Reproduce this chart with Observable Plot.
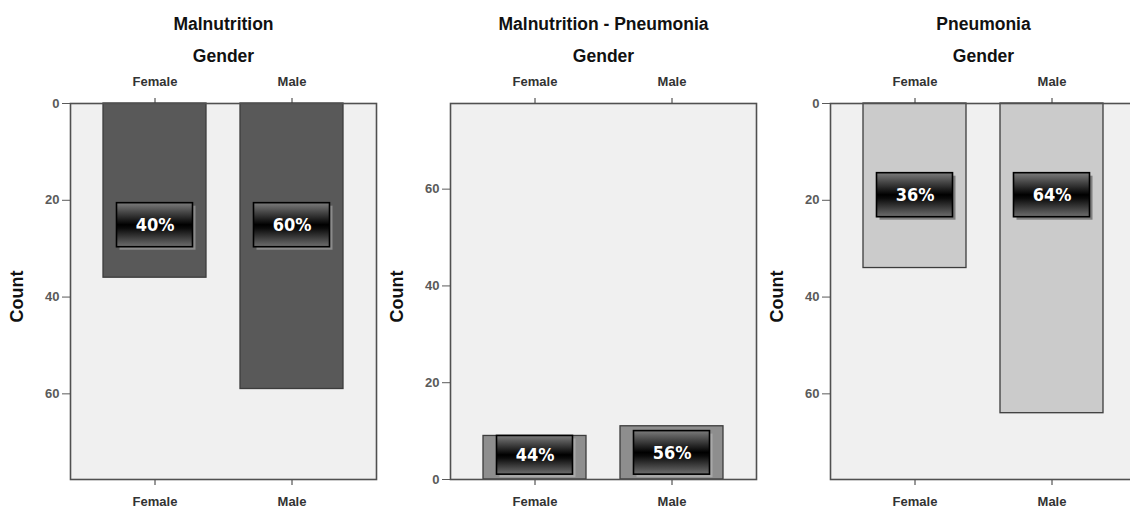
<!DOCTYPE html>
<html>
<head>
<meta charset="utf-8">
<script src="https://cdn.jsdelivr.net/npm/d3@7"></script>
<script src="https://cdn.jsdelivr.net/npm/@observablehq/plot@0.6"></script>
<style>
  html, body { margin: 0; padding: 0; background: #ffffff; }
  #wrap { position: relative; width: 1130px; height: 512px; overflow: hidden; background: #ffffff; }
  #wrap > svg { position: absolute; top: 0; }
</style>
</head>
<body>
<div id="wrap"></div>
<script>
// ---- data ----
const categories = ["Female", "Male"];
const yTicks = [0, 20, 40, 60];
const countMax = 77.7;

const malnutritionTitle = "Malnutrition";
const malnutritionCounts = [36, 59];
const malnutritionPct = ["40%", "60%"];
const malnutritionLabelLow = [20.6, 20.6];
const malnutritionLabelHigh = [29.7, 29.7];

const bothTitle = "Malnutrition - Pneumonia";
const bothCounts = [9, 11];
const bothPct = ["44%", "56%"];
const bothLabelLow = [1, 1];
const bothLabelHigh = [9, 10];

const pneumoniaTitle = "Pneumonia";
const pneumoniaCounts = [34, 64];
const pneumoniaPct = ["36%", "64%"];
const pneumoniaLabelLow = [14.4, 14.4];
const pneumoniaLabelHigh = [23.5, 23.5];

const subTitle = "Gender";
const yLabel = "Count";

const FONT = '"Liberation Sans", Arial, "DejaVu Sans", sans-serif';
const NARROW = '"Liberation Sans Narrow", "Arial Narrow", "DejaVu Sans Condensed", "Liberation Sans", sans-serif';

function gradientDefs(id) {
  return () => {
    const ns = "http://www.w3.org/2000/svg";
    const defs = document.createElementNS(ns, "defs");
    const g = document.createElementNS(ns, "linearGradient");
    g.setAttribute("id", id);
    g.setAttribute("x1", "0"); g.setAttribute("y1", "0");
    g.setAttribute("x2", "0"); g.setAttribute("y2", "1");
    [["0", "#7c7c7c"], ["0.5", "#000000"], ["0.58", "#0a0a0a"], ["1", "#6e6e6e"]].forEach(([o, c]) => {
      const s = document.createElementNS(ns, "stop");
      s.setAttribute("offset", o);
      s.setAttribute("stop-color", c);
      g.appendChild(s);
    });
    defs.appendChild(g);
    return defs;
  };
}

function panel(cfg) {
  const rows = categories.map((c, i) => ({
    cat: c, n: cfg.counts[i], pct: cfg.pct[i], lo: cfg.lo[i], hi: cfg.hi[i]
  }));
  const gid = "lblgrad-" + cfg.id;
  return Plot.plot({
    width: 380,
    height: 512,
    marginTop: 103,
    marginBottom: 33,
    marginLeft: 70,
    marginRight: 4,
    style: { background: "transparent", overflow: "visible", fontFamily: FONT },
    x: { domain: categories, paddingInner: 0.246, paddingOuter: 0.232, label: null },
    y: { domain: [0, countMax], reverse: cfg.reverse, label: null },
    marks: [
      gradientDefs(gid),
      Plot.frame({ fill: "#f0f0f0", stroke: null }),
      Plot.barY(rows, { x: "cat", y1: 0, y2: "n", fill: cfg.barFill, stroke: "#3c3c3c", strokeWidth: 1.3 }),
      Plot.barY(rows, { x: "cat", y1: "lo", y2: "hi", insetLeft: 13.5, insetRight: 13.5, fill: cfg.shadowFill, dx: 3, dy: 3 }),
      Plot.barY(rows, { x: "cat", y1: "lo", y2: "hi", insetLeft: 13.5, insetRight: 13.5, fill: `url(#${gid})`, stroke: "#000", strokeWidth: 1.6 }),
      Plot.text(rows, { x: "cat", y: d => (d.lo + d.hi) / 2, text: "pct", fill: "#ffffff", fontWeight: "bold", fontSize: 18, fontFamily: NARROW }),
      Plot.axisY({ ticks: yTicks, tickSize: 8, tickPadding: 3, fontSize: 13, fontWeight: "bold", color: "#5a5a5a", label: null }),
      Plot.axisX({ anchor: "top", tickSize: 6, tickPadding: 12, fontSize: 13, fontWeight: "bold", color: "#333", label: null }),
      Plot.axisX({ anchor: "bottom", tickSize: 6, tickPadding: 11, fontSize: 13, fontWeight: "bold", color: "#333", label: null }),
      Plot.frame({ stroke: "#505050", strokeWidth: 1.6 }),
      Plot.text([cfg.title], { text: d => d, frameAnchor: "top", dy: -86, fontSize: 17.5, fontWeight: "bold", fill: "#111" }),
      Plot.text([subTitle], { text: d => d, frameAnchor: "top", dy: -54, fontSize: 17.5, fontWeight: "bold", fill: "#111" }),
      Plot.text([yLabel], { text: d => d, frameAnchor: "left", dx: -53, dy: 5, rotate: -90, textAnchor: "middle", fontSize: 18, fontWeight: "bold", fill: "#111" })
    ]
  });
}

const wrap = document.getElementById("wrap");
const panels = [
  { id: "m", left: 0, title: malnutritionTitle, counts: malnutritionCounts, pct: malnutritionPct,
    lo: malnutritionLabelLow, hi: malnutritionLabelHigh, reverse: true, barFill: "#595959", shadowFill: "#8a8a8a" },
  { id: "mp", left: 380, title: bothTitle, counts: bothCounts, pct: bothPct,
    lo: bothLabelLow, hi: bothLabelHigh, reverse: false, barFill: "#8e8e8e", shadowFill: "#a8a8a8" },
  { id: "p", left: 760, title: pneumoniaTitle, counts: pneumoniaCounts, pct: pneumoniaPct,
    lo: pneumoniaLabelLow, hi: pneumoniaLabelHigh, reverse: true, barFill: "#cbcbcb", shadowFill: "#7e7e7e" }
];
panels.forEach(cfg => {
  const svg = panel(cfg);
  svg.style.left = cfg.left + "px";
  wrap.appendChild(svg);
});
</script>
</body>
</html>
